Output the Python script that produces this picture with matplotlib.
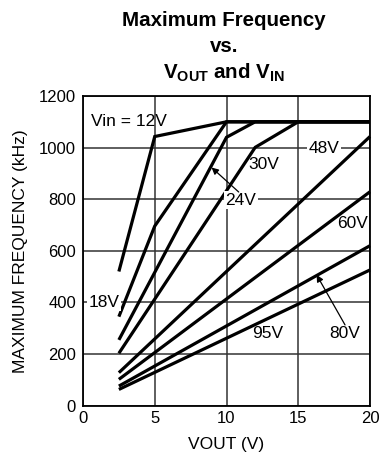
import matplotlib
matplotlib.use("Agg")
import matplotlib.pyplot as plt

plt.rcParams['font.family'] = ['Liberation Sans', 'DejaVu Sans']
plt.rcParams['mathtext.fontset'] = 'custom'
plt.rcParams['mathtext.rm'] = 'Liberation Sans'
plt.rcParams['mathtext.bf'] = 'Liberation Sans:bold'
plt.rcParams['mathtext.it'] = 'Liberation Sans:italic'

# Data: Vin series, (VOUT, frequency kHz) points
vin_labels = ["12V", "18V", "24V", "30V", "48V", "60V", "80V", "95V"]
vout_12 = [2.5, 5, 10, 20]
freq_12 = [520, 1043, 1100, 1100]
vout_18 = [2.5, 5, 10, 20]
freq_18 = [345, 696, 1100, 1100]
vout_24 = [2.5, 10, 12, 20]
freq_24 = [255, 1040, 1100, 1100]
vout_30 = [2.5, 12, 15, 20]
freq_30 = [203, 1001, 1100, 1100]
vout_48 = [2.5, 20]
freq_48 = [128, 1043]
vout_60 = [2.5, 20]
freq_60 = [102, 829]
vout_80 = [2.5, 20]
freq_80 = [76, 620]
vout_95 = [2.5, 20]
freq_95 = [63, 526]

series = [(vout_12, freq_12), (vout_18, freq_18), (vout_24, freq_24),
          (vout_30, freq_30), (vout_48, freq_48), (vout_60, freq_60),
          (vout_80, freq_80), (vout_95, freq_95)]

x_ticks = [0, 5, 10, 15, 20]
y_ticks = [0, 200, 400, 600, 800, 1000, 1200]

fig = plt.figure(figsize=(3.83, 4.61), dpi=100)
ax = fig.add_axes([83/383, 1 - 405.7/461, (370-83)/383, (405.7-96)/461])

ax.set_xlim(0, 20)
ax.set_ylim(0, 1200)
ax.set_xticks(x_ticks)
ax.set_yticks(y_ticks)
ax.grid(True, color='#333333', linewidth=1.1)
ax.set_axisbelow(True)
ax.tick_params(length=0, labelsize=12)
ax.tick_params(axis='x', pad=4)
ax.tick_params(axis='y', pad=5)
for s in ax.spines.values():
    s.set_linewidth(1.3)
    s.set_color('black')

for xs, ys in series:
    ax.plot(xs, ys, color='black', linewidth=2.3, solid_capstyle='butt',
            solid_joinstyle='miter', clip_on=False, zorder=3)

ax.set_xlabel("VOUT (V)", fontsize=12.5, labelpad=8)
ax.set_ylabel("MAXIMUM FREQUENCY (kHz)", fontsize=12.5, labelpad=8)

fs = 12.5
bb = dict(facecolor='white', edgecolor='none', pad=1)
ax.text(0.55, 1101, "Vin = 12V", fontsize=fs, ha='left', va='center', zorder=4)
ax.text(1.45, 400, "18V", fontsize=fs, ha='center', va='center', bbox=bb, zorder=4)
ax.text(11.0, 797, "24V", fontsize=fs, ha='center', va='center', bbox=bb, zorder=4)
ax.text(12.6, 933, "30V", fontsize=fs, ha='center', va='center', zorder=4)
ax.text(16.8, 995, "48V", fontsize=fs, ha='center', va='center', bbox=bb, zorder=4)
ax.text(18.75, 706, "60V", fontsize=fs, ha='center', va='center', zorder=4)
ax.text(12.9, 280, "95V", fontsize=fs, ha='center', va='center', zorder=4)
ax.text(18.25, 280, "80V", fontsize=fs, ha='center', va='center', zorder=4)

arrowprops = dict(arrowstyle='-|>', color='black', lw=0.9, mutation_scale=10,
                  shrinkA=0, shrinkB=0)
ax.annotate("", xy=(8.96, 923), xytext=(10.85, 828), arrowprops=arrowprops, zorder=4)
ax.annotate("", xy=(16.28, 507), xytext=(18.26, 313), arrowprops=arrowprops, zorder=4)

tfs = 14.8
fig.text(0.584, 1 - 21/461, "Maximum Frequency", fontsize=tfs, fontweight='bold',
         ha='center', va='center')
fig.text(0.584, 1 - 47/461, "vs.", fontsize=tfs, fontweight='bold',
         ha='center', va='center')
fig.text(0.584, 1 - 73/461, r"$\mathbf{V_{OUT}}$ and $\mathbf{V_{IN}}$", fontsize=tfs,
         fontweight='bold', ha='center', va='center')

fig.savefig("out.png", dpi=100)
